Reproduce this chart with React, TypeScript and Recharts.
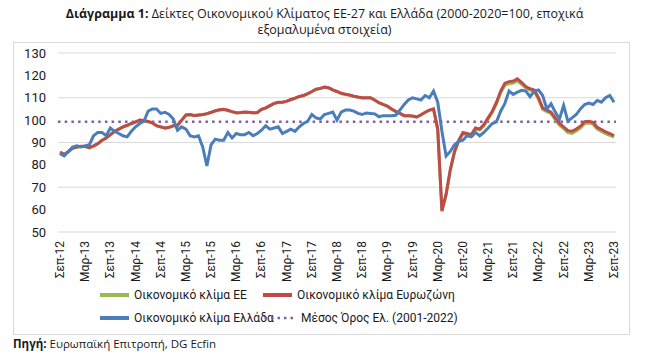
import React from "react";
import {
  LineChart,
  Line,
  XAxis,
  YAxis,
  CartesianGrid,
  ReferenceLine,
} from "recharts";

const monthNames = ["Σεπ", "Οκτ", "Νοε", "Δεκ", "Ιαν", "Φεβ", "Μαρ", "Απρ", "Μαϊ", "Ιουν", "Ιουλ", "Αυγ"];
// Σεπ-12 ... Σεπ-23, monthly
const months = Array.from({ length: 133 }, (_, i) => `${monthNames[i % 12]}-${12 + Math.floor((i + 8) / 12)}`);

const eurozone = [
  85.7, 84.7, 86, 87.5, 88, 88.3, 88.3, 87.7, 88.5, 89.5, 91, 92,
  93.5, 95, 96, 97, 97.7, 98.5, 99.2, 100, 99.8, 99.4, 98.8, 97.5,
  97, 96.5, 96.8, 97.5, 97.7, 100, 102.3, 102.5, 102.1, 102.3, 102.5, 102.9,
  103.5, 104.2, 104.6, 104.8, 104.4, 103.8, 103.3, 103.4, 103.6, 103.5, 103.3, 103.4,
  104.8, 105.5, 106.5, 107.5, 108, 108, 108.5, 109.2, 109.8, 110.6, 111, 111.8,
  112.8, 113.8, 114.2, 114.8, 114.5, 113.5, 112.8, 112, 111.6, 111.2, 110.7, 110.3,
  110, 110, 110, 109, 107.8, 107, 106.3, 105, 103.9, 103, 102, 102,
  101.8, 101.4, 102.4, 103.5, 104.5, 105, 96, 59.5, 67, 78, 86, 91,
  94.5, 94, 93.5, 96.5, 96, 98, 101, 104, 108, 113, 116.5, 117.2,
  117.5, 118.5, 116.8, 115, 114, 113.5, 110, 105.5, 104.5, 103.6, 101, 98.5,
  97, 95.3, 95, 96, 97.3, 99.3, 99.5, 99, 96.8, 95.8, 94.8, 94,
  93,
];

const eu = [
  85.5, 84.6, 85.9, 87.4, 87.9, 88.2, 88.2, 87.6, 88.4, 89.4, 90.9, 91.9,
  93.4, 94.9, 95.9, 96.9, 97.6, 98.4, 99.1, 99.9, 99.7, 99.3, 98.7, 97.4,
  96.9, 96.4, 96.7, 97.4, 97.6, 99.9, 102.2, 102.4, 102, 102.2, 102.4, 102.8,
  103.4, 104.1, 104.5, 104.7, 104.3, 103.7, 103.2, 103.3, 103.5, 103.4, 103.2, 103.3,
  104.7, 105.4, 106.4, 107.4, 107.9, 107.9, 108.4, 109.1, 109.7, 110.5, 110.9, 111.7,
  112.7, 113.7, 114.1, 114.7, 114.4, 113.4, 112.7, 111.9, 111.5, 111.1, 110.6, 110.2,
  109.9, 109.9, 109.9, 108.9, 107.7, 106.9, 106.2, 104.9, 103.8, 102.9, 101.9, 101.9,
  101.7, 101.3, 102.3, 103.4, 104.4, 104.9, 95.8, 59.2, 66.6, 77.6, 85.6, 90.6,
  94, 93.5, 93, 96, 95.5, 97.5, 100.5, 103.5, 107.3, 112.2, 115.6, 116.3,
  116.6, 117.6, 116, 114.3, 113.4, 112.9, 109.3, 104.8, 103.8, 102.9, 100.2, 97.7,
  96.2, 94.4, 94.1, 95.1, 96.4, 98.5, 98.7, 98.2, 96, 95, 94, 93.2,
  92.4,
];

const greece = [
  85, 84, 86, 88, 88.5, 88, 88.5, 89, 93, 94.5, 94.5, 93,
  96.5, 95, 94, 93, 92.5, 95, 97, 98.5, 99.5, 104, 105, 105,
  103, 103.5, 102.5, 100.5, 95.5, 97, 96, 93, 92.5, 93, 88, 79.5,
  89, 91.5, 91, 91, 94.5, 92, 94, 93.5, 93.5, 94.5, 93, 94,
  95.5, 97.5, 96, 96.5, 97, 94, 95, 96, 95, 97, 98.5, 99.5,
  102.5, 101, 100.5, 102.5, 103, 103.6, 100, 103.6, 104.5, 104.5, 104, 103,
  102.5, 103.2, 103, 102.8, 101.5, 102, 102, 102, 102.2, 104.5, 107, 109,
  110, 109.5, 109, 111, 110, 113, 108, 95, 84, 86, 89, 90.5,
  91, 93, 92.5, 94.5, 93, 94.5, 96.5, 98.5, 99.2, 104, 107.5, 113,
  111.5, 112.5, 113.3, 113, 110.5, 113, 113.5, 111, 105, 107.3, 103.6, 100.5,
  106.6, 99.5, 101, 102.5, 105, 107, 107.6, 107, 108.8, 108, 110, 111,
  108,
];

const greeceMean = 99.3;
const yTicks = [50, 60, 70, 80, 90, 100, 110, 120, 130];

const data = months.map((m, i) => ({
  month: m,
  eu: eu[i],
  eurozone: eurozone[i],
  greece: greece[i],
}));

const font = "Roboto, sans-serif";

const XTick = ({ x, y, payload }: any) => (
  <text
    x={x}
    y={y}
    transform={`rotate(-90 ${x} ${y})`}
    textAnchor="end"
    dy={4}
    dx={-1}
    fontSize={12}
    fontFamily={font}
    fill="#1a1a1a"
  >
    {payload.value}
  </text>
);

const LegendItem = ({ color, label, dotted }: { color: string; label: string; dotted?: boolean }) => (
  <div style={{ display: "flex", alignItems: "center", height: 16, whiteSpace: "nowrap" }}>
    <svg width={30} height={6} style={{ marginRight: 4, flex: "none" }}>
      <line
        x1={dotted ? 1.5 : 0}
        y1={3}
        x2={dotted ? 30 : 29}
        y2={3}
        stroke={color}
        strokeWidth={dotted ? 2.5 : 4}
        strokeDasharray={dotted ? "2.5 4" : undefined}
      />
    </svg>
    <span style={{ marginLeft: dotted ? 4 : 0 }}>{label}</span>
  </div>
);

export default function App() {
  return (
    <div
      style={{
        position: "absolute",
        left: 0,
        top: 0,
        width: 649,
        height: 359,
        background: "#fff",
        fontFamily: font,
        color: "#1a1a1a",
      }}
    >
      <div
        style={{
          position: "absolute",
          top: 6,
          left: 0,
          width: 649,
          textAlign: "center",
          fontFamily: "'Open Sans', sans-serif",
          fontSize: 12.5,
          lineHeight: "16px",
        }}
      >
        <b>Διάγραμμα 1:</b> Δείκτες Οικονομικού Κλίματος ΕΕ-27 και Ελλάδα (2000-2020=100, εποχικά
        <br />
        εξομαλυμένα στοιχεία)
      </div>

      <div
        style={{
          position: "absolute",
          left: 13,
          top: 42,
          width: 615,
          height: 291,
          border: "1px solid #d9d9d9",
        }}
      >
        <LineChart
          width={615}
          height={244}
          data={data}
          margin={{ top: 10, right: 13, left: 0, bottom: 0 }}
        >
          <CartesianGrid vertical={false} stroke="#d9d9d9" />
          <XAxis
            dataKey="month"
            interval={5}
            tick={<XTick />}
            tickLine={false}
            axisLine={false}
            height={55}
            padding={{ left: 2, right: 2 }}
          />
          <YAxis
            domain={[50, 130]}
            ticks={yTicks}
            width={44}
            tickLine={false}
            axisLine={false}
            tick={{ fontSize: 13, fontFamily: font, fill: "#1a1a1a" }}
            tickMargin={6}
          />
          <ReferenceLine
            y={greeceMean}
            stroke="#7f619e"
            strokeWidth={2.5}
            strokeDasharray="2.5 4.2"
          />
          <Line dataKey="eu" stroke="#98b954" strokeWidth={3} dot={false} isAnimationActive={false} />
          <Line dataKey="eurozone" stroke="#be4b48" strokeWidth={3} dot={false} isAnimationActive={false} />
          <Line dataKey="greece" stroke="#4a7ebb" strokeWidth={3} dot={false} isAnimationActive={false} />
        </LineChart>

        <div
          style={{
            position: "absolute",
            left: 86,
            top: 244,
            display: "grid",
            gridTemplateColumns: "163px 220px",
            rowGap: 7,
            fontSize: 12,
          }}
        >
          <LegendItem color="#98b954" label="Οικονομικό κλίμα ΕΕ" />
          <LegendItem color="#be4b48" label="Οικονομικό κλίμα Ευρωζώνη" />
          <LegendItem color="#4a7ebb" label="Οικονομικό κλίμα Ελλάδα" />
          <LegendItem color="#7f619e" label="Μέσος Όρος Ελ. (2001-2022)" dotted />
        </div>
      </div>

      <div
        style={{
          position: "absolute",
          left: 13,
          top: 336,
          fontFamily: "'Open Sans', sans-serif",
          fontSize: 11.5,
        }}
      >
        <b>Πηγή:</b> Ευρωπαϊκή Επιτροπή, DG Ecfin
      </div>
    </div>
  );
}
